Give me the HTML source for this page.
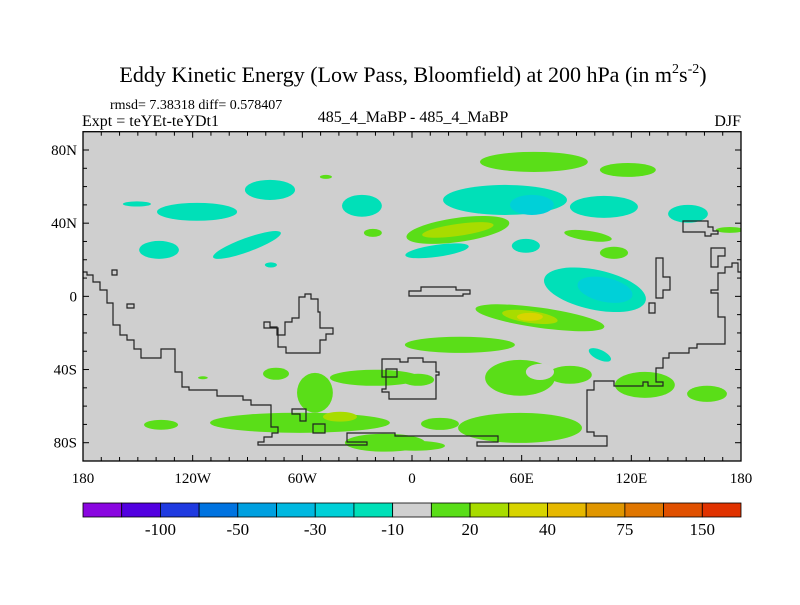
<!DOCTYPE html>
<html><head><meta charset="utf-8"><style>
body{margin:0;background:#fff;}
svg text{font-family:"Liberation Serif",serif;fill:#000;}
</style></head><body>
<svg id="chart" width="800" height="600" xmlns="http://www.w3.org/2000/svg">
<text x="413" y="82" font-size="22" text-anchor="middle">Eddy Kinetic Energy (Low Pass, Bloomfield) at 200 hPa (in m<tspan font-size="14" dy="-9">2</tspan><tspan dy="9">s</tspan><tspan font-size="14" dy="-9">-2</tspan><tspan dy="9">)</tspan></text>
<text x="110" y="109" font-size="14">rmsd= 7.38318 diff= 0.578407</text>
<text x="82" y="126" font-size="16">Expt = teYEt-teYDt1</text>
<text x="413" y="122" font-size="16" text-anchor="middle">485_4_MaBP - 485_4_MaBP</text>
<text x="741" y="126" font-size="16" text-anchor="end">DJF</text>
<defs><clipPath id="clip"><rect x="83" y="131.7" width="658" height="329.3"/></clipPath></defs>
<rect x="83" y="131.7" width="658" height="329.3" fill="#cfcfcf"/>
<g id="blobs" clip-path="url(#clip)"></g>
<g clip-path="url(#clip)" fill="none" stroke="#222" stroke-width="1.2">
<polyline points="83,272 87,272 87,275 93,275 93,282 100,282 100,290 107,290 107,303 113,303 113,325 120,325 120,335 127,335 127,340 134,340 134,349 141,349 141,358 161,358 161,349 175,349 175,372 182,372 182,387 189,387 189,390 217,390 217,396 243,396 243,400 251,400 251,405 271,405 271,427 278,427 278,433 272,433 272,437 264,437 264,442 258,442 258,445 367,445 367,442 347,442 347,433 395,433 395,436 498,436 498,442 477,442 477,446 607,446 607,436 594,436 594,432 587,432 587,390 594,390 594,381 614,381 614,386 643,386 643,382 648,382 648,386 663,386 663,382 656,382 656,368 663,368 663,358 669,358 669,353 689,353 689,348 697,348 697,344 725,344 725,317 718,317 718,293 711,293 711,290 718,290 718,273 725,273 725,267 732,267 732,263 738,263 738,272 741,272"/>
<polygon points="683,221 708,221 708,227 713,227 713,231 718,231 718,234 711,234 711,236 705,236 705,232 683,232"/>
<polygon points="711,248 725,248 725,256 718,256 718,267 711,267"/>
<polygon points="656,258 663,258 663,277 670,277 670,290 663,290 663,298 656,298"/>
<polygon points="649,303 655,303 655,313 649,313"/>
<polygon points="409,291 421,291 421,287 456,287 456,290 470,290 470,294 463,294 463,296 409,296"/>
<polygon points="264,322 270,322 270,327 277,327 277,335 285,335 285,322 292,322 292,318 299,318 299,297 305,297 305,294 311,294 311,299 318,299 318,312 320,312 320,328 333,328 333,334 326,334 326,340 320,340 320,353 286,353 286,347 278,347 278,328 264,328"/>
<polygon points="382,359 400,359 400,362 408,362 408,358 423,358 423,362 436,362 436,372 439,372 439,375 436,375 436,399 389,399 389,392 382,392 382,389 386,389 386,369 397,369 397,377 382,377"/>
<polygon points="112,270 117,270 117,275 112,275"/>
<polygon points="127,304 134,304 134,308 127,308"/>
<polygon points="292,409 306,409 306,421 300,421 300,414 292,414"/>
<polygon points="313,424 325,424 325,433 313,433"/>
</g>
<g id="axes"></g>
<g id="cbar"></g>
</svg>
<script>
// contour levels / colors (colorbar)
const levelLabels = ["-100","-50","-30","-10","20","40","75","150"];
const levelColors = ["#8a06e0","#5200e0","#1f3ae0","#0073e0","#00a0e0","#00b8e0","#00d0d8","#00e0b8","#d0d0d0","#5ade18","#a8dc00","#d8d400","#e6b800","#e09600","#e07600","#e05000","#e03200"];
// field features: lon, lat (centre)
const blobLon = [-77.7,-117.6,-150.5,-27.4,-138.4,-90.3,-77.2,-47.1,-21.4,-74.4,-114.4,-137.3,-61.3,-53.1,-20.3,-14.8,-39.4,25.1,25.1,13.7,26.2,59.1,86.4,70,3.3,66.7,118.1,50.9,105,65.6,151,173.9,96.3,110.5,62.3,100.1,105.6,70,64.5,64.5,102.8,127.4,161.4,15.3,59.1,1.6];
const blobLat = [58.2,46.2,50.5,49.5,25.4,28.1,17.2,65.3,34.7,-42.3,-44.5,-70.2,-69.1,-52.7,-44.5,-80,-65.8,36.3,36.3,24.9,-26.5,-44.5,-42.9,-41.3,-45.6,73.5,69.1,52.7,48.9,50,45.1,36.3,33.1,23.8,27.6,3.6,3.6,-11.7,-11.2,-11.2,-32,-48.4,-53.3,-69.7,-71.9,-81.7];
// half-widths in degrees
const blobRx = [13.7,21.9,7.7,10.9,10.9,19.7,3.3,3.3,4.9,7.1,2.7,9.3,49.2,9.8,24.6,21.9,9.3,28.4,19.7,17.5,30.1,19.1,12,7.7,8.8,29.5,15.3,33.9,18.6,12,10.9,7.7,13.1,7.7,7.7,28.4,15.3,35.6,15.3,7.1,6.6,16.4,10.9,10.4,33.9,16.4];
const blobRy = [5.5,4.9,1.4,6,4.9,3.8,1.4,1.1,2.2,3.3,0.8,2.7,5.5,10.9,4.4,4.9,2.7,6.6,3.3,3.3,4.4,9.8,4.9,4.4,3.3,5.5,3.8,8.2,6,5.5,4.9,1.6,2.7,3.3,3.8,10.9,6.6,5.5,3.3,2.2,2.7,7.1,4.4,3.3,8.2,2.7];
const blobRot = [0,0,0,0,0,-20,0,0,0,0,0,0,0,0,0,0,0,-8,-8,-8,0,0,0,0,0,0,0,0,0,0,0,0,8,0,0,12,12,8,8,0,25,0,0,0,0,0];
// value level index per feature (7=-10 band,6=-20,9=20,10=30,11=40,8=neutral)
const blobLevel = [7,7,7,7,7,7,7,9,9,9,9,9,9,9,9,9,10,9,10,7,9,9,9,8,9,9,9,7,7,6,7,9,9,9,7,7,6,9,10,11,7,9,9,9,9,9];

const NS="http://www.w3.org/2000/svg";
const X0=83,X1=741,Y0=131.7,Y1=461;
const xS=lon=>X0+(lon+180)/360*(X1-X0);
const yS=lat=>Y0+(90-lat)/180*(Y1-Y0);
const kx=(X1-X0)/360, ky=(Y1-Y0)/180;

const g=document.getElementById('blobs');
const order=blobLon.map((_,i)=>i).sort((a,b)=>{
  const r=l=>l===8?100:Math.abs(l-8);
  return r(blobLevel[a])-r(blobLevel[b]);
});
order.forEach(i=>{
  const e=document.createElementNS(NS,'ellipse');
  const cx=xS(blobLon[i]), cy=yS(blobLat[i]);
  e.setAttribute('cx',cx);e.setAttribute('cy',cy);
  e.setAttribute('rx',blobRx[i]*kx);e.setAttribute('ry',blobRy[i]*ky);
  e.setAttribute('fill',levelColors[blobLevel[i]]);
  if(blobRot[i])e.setAttribute('transform',`rotate(${blobRot[i]} ${cx} ${cy})`);
  
  
  g.appendChild(e);
});

const ax=document.getElementById('axes');
function line(x1,y1,x2,y2,w){const l=document.createElementNS(NS,'line');l.setAttribute('x1',x1);l.setAttribute('y1',y1);l.setAttribute('x2',x2);l.setAttribute('y2',y2);l.setAttribute('stroke','#000');l.setAttribute('stroke-width',w||1);


ax.appendChild(l);}
function txt(x,y,s,anchor,parent,name,size){const t=document.createElementNS(NS,'text');t.setAttribute('x',x);t.setAttribute('y',y);t.setAttribute('font-size',size||15);t.setAttribute('text-anchor',anchor);t.textContent=s;


parent.appendChild(t);}
const fr=document.createElementNS(NS,'rect');
fr.setAttribute('x',X0);fr.setAttribute('y',Y0);fr.setAttribute('width',X1-X0);fr.setAttribute('height',Y1-Y0);fr.setAttribute('fill','none');fr.setAttribute('stroke','#000');fr.setAttribute('stroke-width','1.3');


ax.appendChild(fr);
const lonTicks=[-180,-120,-60,0,60,120,180];
const lonLabels=["180","120W","60W","0","60E","120E","180"];
const latTicks=[80,40,0,-40,-80];
const latLabels=["80N","40N","0","40S","80S"];
for(let lo=-170;lo<180;lo+=10){const x=xS(lo);const maj=lo%60===0;line(x,Y1,x,Y1-(maj?6:4));line(x,Y0,x,Y0+(maj?6:4));}
for(let la=-80;la<=80;la+=10){const y=yS(la);const maj=la%40===0;line(X0,y,X0+(maj?6:4),y);line(X1,y,X1-(maj?6:4),y);}
lonTicks.forEach((v,i)=>txt(xS(v),483,lonLabels[i],'middle',ax,'x-tick-label'));
latTicks.forEach((v,i)=>txt(X0-6,yS(v)+5,latLabels[i],'end',ax,'y-tick-label'));

const cb=document.getElementById('cbar');
const bw=(X1-X0)/levelColors.length;
levelColors.forEach((c,i)=>{const r=document.createElementNS(NS,'rect');r.setAttribute('x',X0+i*bw);r.setAttribute('y',503);r.setAttribute('width',bw);r.setAttribute('height',14);r.setAttribute('fill',c);r.setAttribute('stroke','#000');r.setAttribute('stroke-width','0.8');


cb.appendChild(r);});
levelLabels.forEach((s,i)=>txt(X0+(2*i+2)*bw,535,s,'middle',cb,'colorbar-label',17));
</script>
</body></html>
